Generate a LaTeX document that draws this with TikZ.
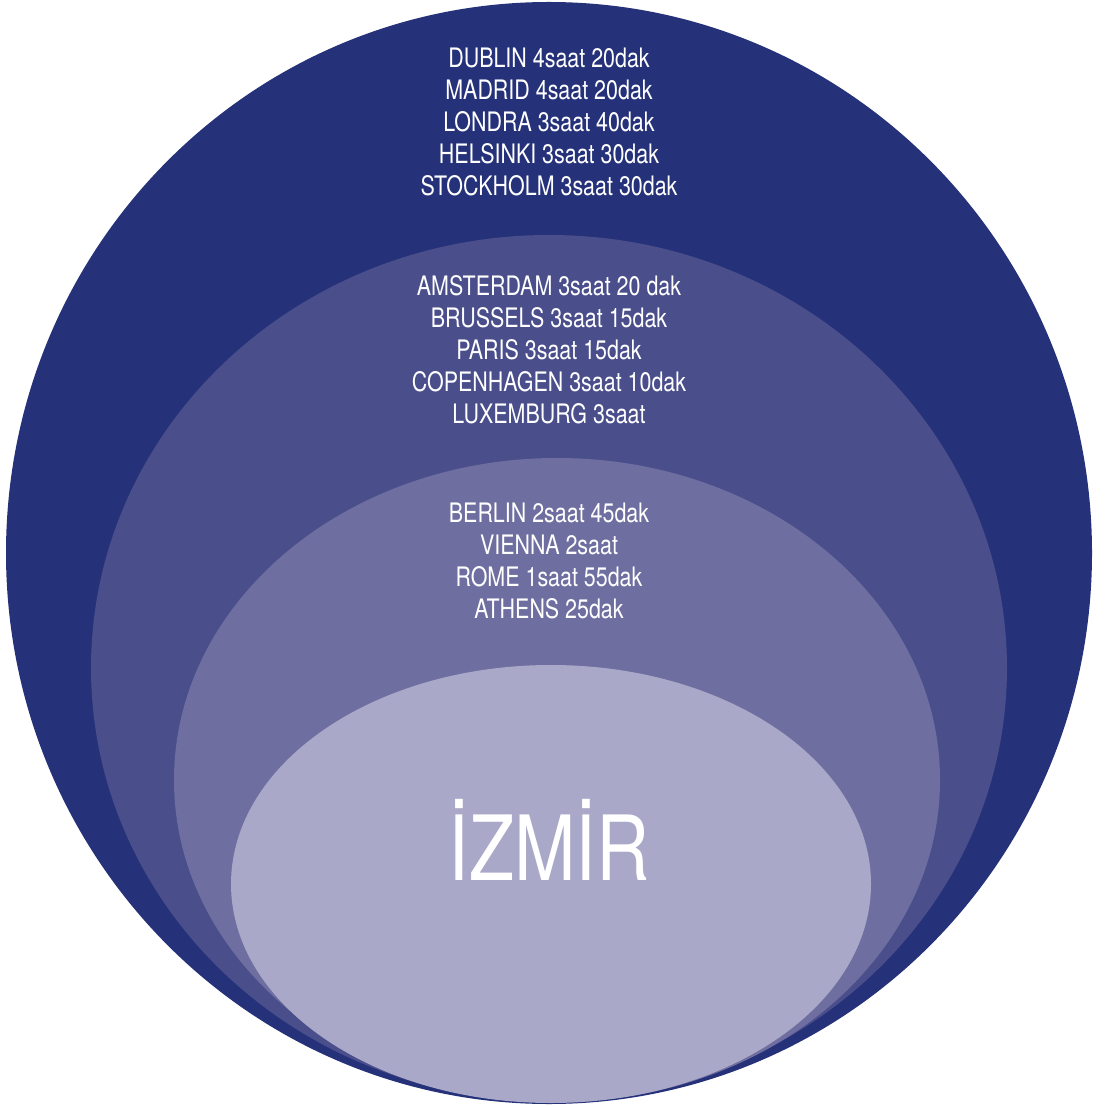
\documentclass[tikz,border=0pt]{standalone}
\usepackage{fontspec}
\setmainfont{TeX Gyre Heros}
\newfontfamily\condfont[FakeStretch=0.8]{TeX Gyre Heros}
\newfontfamily\bigfont[FakeStretch=0.82]{TeX Gyre Heros}
\definecolor{ringA}{HTML}{253178}
\definecolor{ringB}{HTML}{4A4E8B}
\definecolor{ringC}{HTML}{6E6EA0}
\definecolor{ringD}{HTML}{A9A8C8}
\begin{document}
\begin{tikzpicture}[x=0.5pt,y=-0.5pt,
  citytxt/.style={text=white,align=center,inner sep=0pt,
    font=\condfont\fontsize{13.4pt}{16pt}\selectfont},
  bigtxt/.style={text=white,inner sep=0pt,font=\bigfont\fontsize{45pt}{50pt}\selectfont}]
\useasboundingbox (0,0) rectangle (1107,1106);
\fill[ringA] (549,553) ellipse [x radius=271.5pt, y radius=275.5pt];
\fill[ringB] (549,668) ellipse [x radius=229pt, y radius=216.5pt];
\fill[ringC] (557,780) ellipse [x radius=191.5pt, y radius=161pt];
\fill[ringD] (551,884) ellipse [x radius=160pt, y radius=109.5pt];
\node[citytxt] (g1) at (549,122) {DUBLIN 4saat 20dak\\MADRID 4saat 20dak\\LONDRA 3saat 40dak\\HELSINKI 3saat 30dak\\STOCKHOLM 3saat 30dak};
\node[citytxt] (g2) at (549,350) {AMSTERDAM 3saat 20 dak\\BRUSSELS 3saat 15dak\\PARIS 3saat 15dak\\COPENHAGEN 3saat 10dak\\LUXEMBURG 3saat};
\node[citytxt] (g3) at (549,561) {BERLIN 2saat 45dak\\VIENNA 2saat\\ROME 1saat 55dak\\ATHENS 25dak};
\node[bigtxt,anchor=base] (iz) at (549,880) {İZMİR};
\end{tikzpicture}
\end{document}
